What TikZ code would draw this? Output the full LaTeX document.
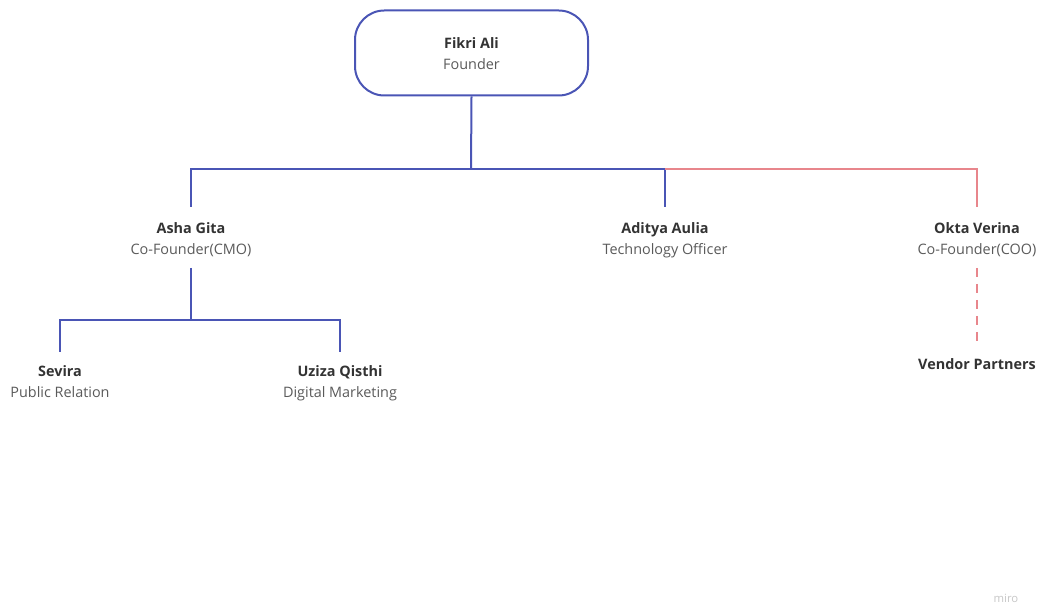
\documentclass[tikz,border=0pt]{standalone}
\usepackage{fontspec}
\setmainfont{Open Sans}
\definecolor{lineblue}{HTML}{4A55B5}
\definecolor{linered}{HTML}{E8868C}
\definecolor{namecol}{HTML}{333333}
\definecolor{rolecol}{HTML}{5A5A5A}
\newcommand{\pname}[1]{\strut\textbf{\color{namecol}#1}}
\newcommand{\prole}[1]{\strut #1}
\begin{document}
\begin{tikzpicture}[x=0.75pt,y=-0.75pt,
  blue line/.style={draw=lineblue,line width=1.5pt},
  red line/.style={draw=linered,line width=1.5pt},
  person/.style={align=center,inner sep=0pt,font=\fontsize{10.8}{15.75}\selectfont,text=rolecol},
  founderbox/.style={draw=lineblue,line width=1.5pt,rounded corners=22pt,minimum width=233*0.75pt,minimum height=85*0.75pt,align=center,font=\fontsize{10.8}{15.75}\selectfont,text=rolecol}
]
\useasboundingbox (0,0) rectangle (1045,605);
\node[founderbox] (fikri) at (471.5,53) {\rule{0pt}{14pt}\pname{Fikri Ali}\\\prole{Founder}};
\node[person] (asha) at (191,240) {\pname{Asha Gita}\\\prole{Co-Founder(CMO)}};
\node[person] (aditya) at (665,240) {\pname{Aditya Aulia}\\\prole{Technology Officer}};
\node[person] (okta) at (977,240) {\pname{Okta Verina}\\\prole{Co-Founder(COO)}};
\node[person] (sevira) at (60,383) {\pname{Sevira}\\\prole{Public Relation}};
\node[person] (uziza) at (340,383) {\pname{Uziza Qisthi}\\\prole{Digital Marketing}};
\node[person] (vendor) at (977,365) {\pname{Vendor Partners}};
\node[font=\fontsize{8.5}{9}\selectfont,text=black!22] (miro) at (1006,598) {miro};
\coordinate (hub) at (471,169);
\coordinate (ashaTop) at (191,169);
\coordinate (adityaTop) at (665,169);
\coordinate (oktaTop) at (977,169);
\coordinate (sub) at (191,320);
\draw[blue line] (fikri.south) -- (hub);
\draw[blue line] (hub) -- (ashaTop) -- (asha.north |- 0,207);
\draw[blue line] (hub) -- (adityaTop) -- (aditya.north |- 0,207);
\draw[red line] (adityaTop) -- (oktaTop) -- (okta.north |- 0,207);
\draw[blue line] (asha.south |- 0,268) -- (sub);
\draw[blue line] (sub) -| (sevira.north |- 0,352);
\draw[blue line] (sub) -| (uziza.north |- 0,352);
\draw[red line,line width=1.2pt,dash pattern=on 7pt off 5pt] (okta.south |- 0,268) -- (vendor.north |- 0,346);
\end{tikzpicture}
\end{document}
